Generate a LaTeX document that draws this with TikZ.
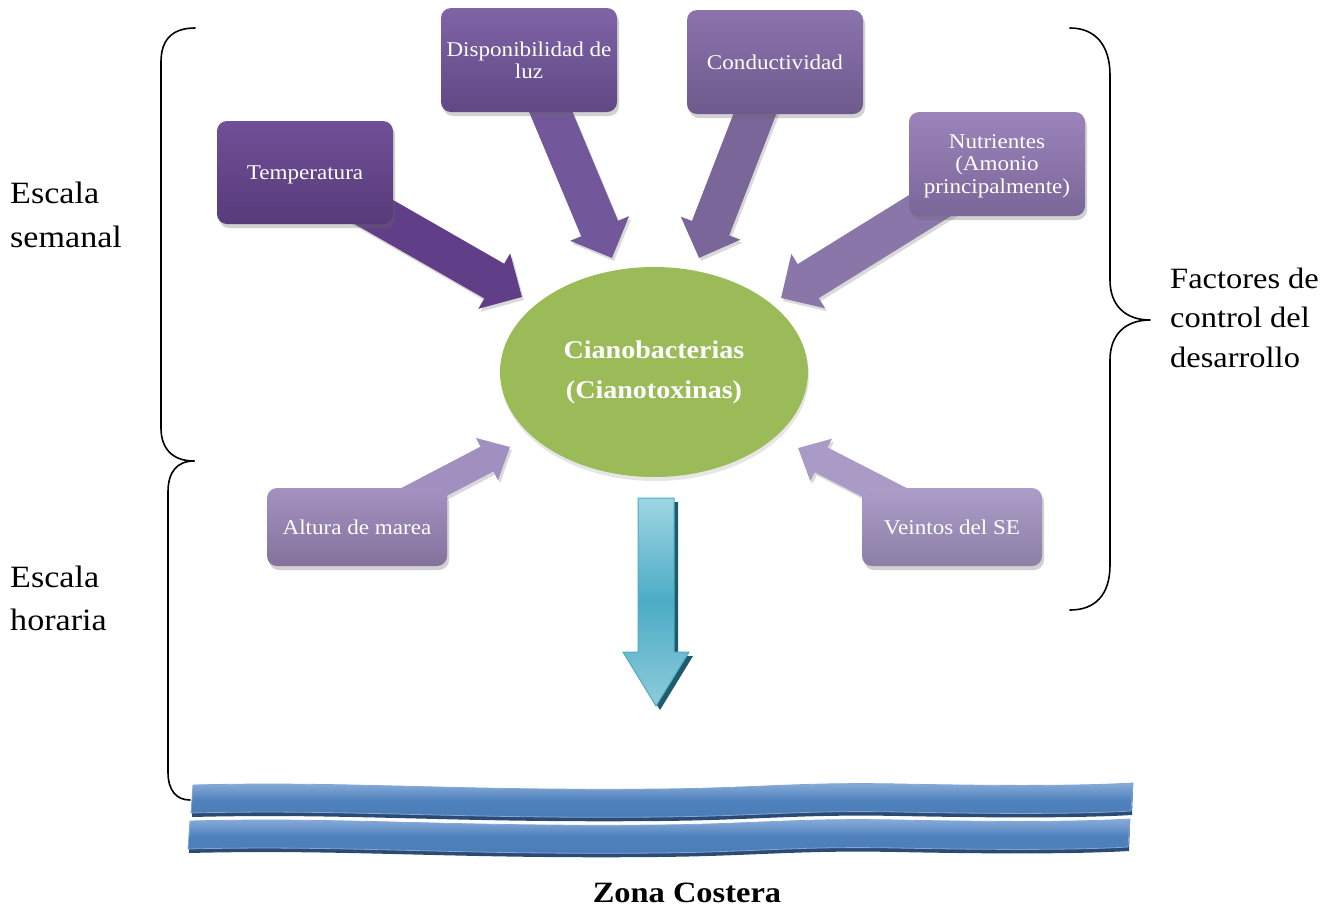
\documentclass[tikz,border=0pt]{standalone}
\usepackage{fontspec}
\setmainfont{Liberation Serif}[FakeStretch=1.1]
\usetikzlibrary{shapes.geometric,arrows.meta,shadows}
\definecolor{tempTop}{HTML}{714F97}\definecolor{tempBot}{HTML}{573B7A}
\definecolor{dispTop}{HTML}{7F64A6}\definecolor{dispBot}{HTML}{5F4884}
\definecolor{condTop}{HTML}{8B73AD}\definecolor{condBot}{HTML}{6E5A8C}
\definecolor{nutrTop}{HTML}{9B84BA}\definecolor{nutrBot}{HTML}{7B6698}
\definecolor{altTop}{HTML}{A491C0}\definecolor{altBot}{HTML}{84729D}
\definecolor{vieTop}{HTML}{AC9DC8}\definecolor{vieBot}{HTML}{8C7FA6}
\definecolor{arrA}{HTML}{603F88}\definecolor{arrB}{HTML}{72589A}
\definecolor{arrC}{HTML}{7A6699}\definecolor{arrD}{HTML}{8A76A9}
\definecolor{arrE}{HTML}{A18FBF}\definecolor{arrF}{HTML}{A99BC6}
\definecolor{cianoGreen}{HTML}{9BBB59}
\definecolor{blueLight}{HTML}{9FD5E2}\definecolor{blueMid}{HTML}{4BACC6}
\definecolor{blueBot}{HTML}{8ECBDB}\definecolor{blueShadow}{HTML}{1F5C6B}
\definecolor{waveTop}{HTML}{8FB1DD}\definecolor{waveMid}{HTML}{4F81BD}
\definecolor{waveBot}{HTML}{4A7CB8}\definecolor{waveDark}{HTML}{2C4B73}
\pgfdeclarelayer{bg}
\pgfsetlayers{bg,main}
\tikzset{
  fbox/.style={rounded corners=10pt, minimum width=176pt, minimum height=104pt,
    inner sep=2pt, text=white, align=center, text depth=0pt,
    font=\fontsize{21}{22.5}\selectfont,
    drop shadow={shadow xshift=2pt, shadow yshift=-4pt, opacity=0.3, fill=black!60}},
  sbox/.style={fbox, minimum width=180pt, minimum height=78pt},
  bigarrow/.style={line width=40pt, -{Triangle[length=32pt,width=62pt]}},
  smallarrow/.style={line width=28pt, -{Triangle[length=26pt,width=46pt]}},
  arrshadow/.style={draw=black!15, fill=black!15, transform canvas={shift={(2pt,-3pt)}}},
  brace/.style={line width=1.6pt, line cap=round, line join=round},
  sidetext/.style={anchor=west, align=left, inner sep=0pt},
}
\begin{document}
\begin{tikzpicture}[x=1pt,y=-1pt]
\useasboundingbox (0,0) rectangle (1328,911);

% boxes
\node[fbox, minimum height=103pt, top color=tempTop, bottom color=tempBot] (temp) at (305,172.5) {Temperatura};
\node[fbox, top color=dispTop, bottom color=dispBot] (disp) at (529,60) {Disponibilidad de\\luz};
\node[fbox, top color=condTop, bottom color=condBot] (cond) at (775,62) {Conductividad};
\node[fbox, top color=nutrTop, bottom color=nutrBot] (nutr) at (997,164) {Nutrientes\\(Amonio\\principalmente)};
\node[sbox, top color=altTop, bottom color=altBot] (alt) at (357,527) {Altura de marea};
\node[sbox, top color=vieTop, bottom color=vieBot] (vie) at (952,527) {Veintos del SE};

% central ellipse
\node[ellipse, minimum width=308pt, minimum height=210pt, inner sep=0pt, fill=cianoGreen,
  drop shadow={shadow xshift=1pt, shadow yshift=-4pt, opacity=0.2, fill=black!50},
  text=white, align=center, font=\fontsize{25.5}{40}\selectfont\bfseries] (ciano) at (654,372)
  {Cianobacterias\\(Cianotoxinas)};

% arrow tips
\coordinate (tA) at (522,297);
\coordinate (tB) at (612,258);
\coordinate (tC) at (699,258);
\coordinate (tD) at (781,298);
\coordinate (tE) at (510,447);
\coordinate (tF) at (798,448);

\begin{pgfonlayer}{bg}
  \draw[bigarrow, arrshadow] (temp.center) -- (tA);
  \draw[bigarrow, arrshadow] (disp.center) -- (tB);
  \draw[bigarrow, arrshadow] (cond.center) -- (tC);
  \draw[bigarrow, arrshadow] (nutr.center) -- (tD);
  \draw[smallarrow, arrshadow] (alt.center) -- (tE);
  \draw[smallarrow, arrshadow] (vie.center) -- (tF);
  \draw[bigarrow, draw=arrA, fill=arrA] (temp.center) -- (tA);
  \draw[bigarrow, draw=arrB, fill=arrB] (disp.center) -- (tB);
  \draw[bigarrow, draw=arrC, fill=arrC] (cond.center) -- (tC);
  \draw[bigarrow, draw=arrD, fill=arrD] (nutr.center) -- (tD);
  \draw[smallarrow, draw=arrE, fill=arrE] (alt.center) -- (tE);
  \draw[smallarrow, draw=arrF, fill=arrF] (vie.center) -- (tF);
\end{pgfonlayer}

% blue down arrow
\coordinate (bTop) at (656,498);
\fill[blueShadow] (bTop) ++(-14,4) -- ++(36,0) -- ++(0,154) -- ++(15,0) -- ++(-33,54) -- ++(-33,-54) -- ++(15,0) -- cycle;
\shade[top color=blueLight, bottom color=blueBot, middle color=blueMid, draw=blueMid, line width=1pt]
  (bTop) ++(-18,0) -- ++(36,0) -- ++(0,154) -- ++(15,0) -- ++(-33,54) -- ++(-33,-54) -- ++(15,0) -- cycle;

% coastal waves
\foreach \dx/\dy in {0/0, -3/36} {
  \begin{scope}[shift={(\dx,\dy)}]
    \fill[waveDark] (193,788) .. controls (350,784) and (450,794) .. (660,792) .. controls (760,791) and (800,785) .. (900,787) .. controls (1000,789) and (1080,789) .. (1133,786) -- (1132,815) .. controls (1080,818) and (1000,818) .. (900,816) .. controls (800,814) and (760,820) .. (660,821) .. controls (450,823) and (350,813) .. (192,817) -- cycle;
    \shade[top color=waveTop, bottom color=waveBot, middle color=waveMid, draw=waveTop!80!waveMid, line width=0.8pt]
      (193,785) .. controls (350,781) and (450,791) .. (660,789) .. controls (760,788) and (800,782) .. (900,784) .. controls (1000,786) and (1080,786) .. (1133,783) -- (1131,811) .. controls (1080,814) and (1000,814) .. (900,812) .. controls (800,810) and (760,816) .. (660,817) .. controls (450,819) and (350,809) .. (191,813) -- cycle;
  \end{scope}
}

% braces
\draw[brace] (195,28) .. controls (172,28) and (161,40) .. (161,62) -- (161,428)
  .. controls (161,448) and (172,461) .. (194,461);
\draw[brace] (194,461) .. controls (177,461) and (168,472) .. (168,492) -- (168,772)
  .. controls (168,790) and (176,800) .. (190,800);
\draw[brace] (1070,28) .. controls (1095,28) and (1110,45) .. (1110,75) -- (1110,280)
  .. controls (1110,305) and (1125,320) .. (1150,320)
  .. controls (1125,320) and (1110,335) .. (1110,360) -- (1110,565)
  .. controls (1110,595) and (1095,610) .. (1070,610);

% side texts
\node[sidetext, font=\fontsize{31}{44}\selectfont] (weekly) at (10,215) {Escala\\semanal};
\node[sidetext, font=\fontsize{31}{43}\selectfont] (hourly) at (10,598.5) {Escala\\horaria};
\node[sidetext, font=\fontsize{29.5}{39.5}\selectfont] (factors) at (1170,317.5) {Factores de\\control del\\desarrollo};
\node[inner sep=0pt, font=\fontsize{29.5}{35}\selectfont\bfseries] (zona) at (687,893) {Zona Costera};
\end{tikzpicture}
\end{document}
